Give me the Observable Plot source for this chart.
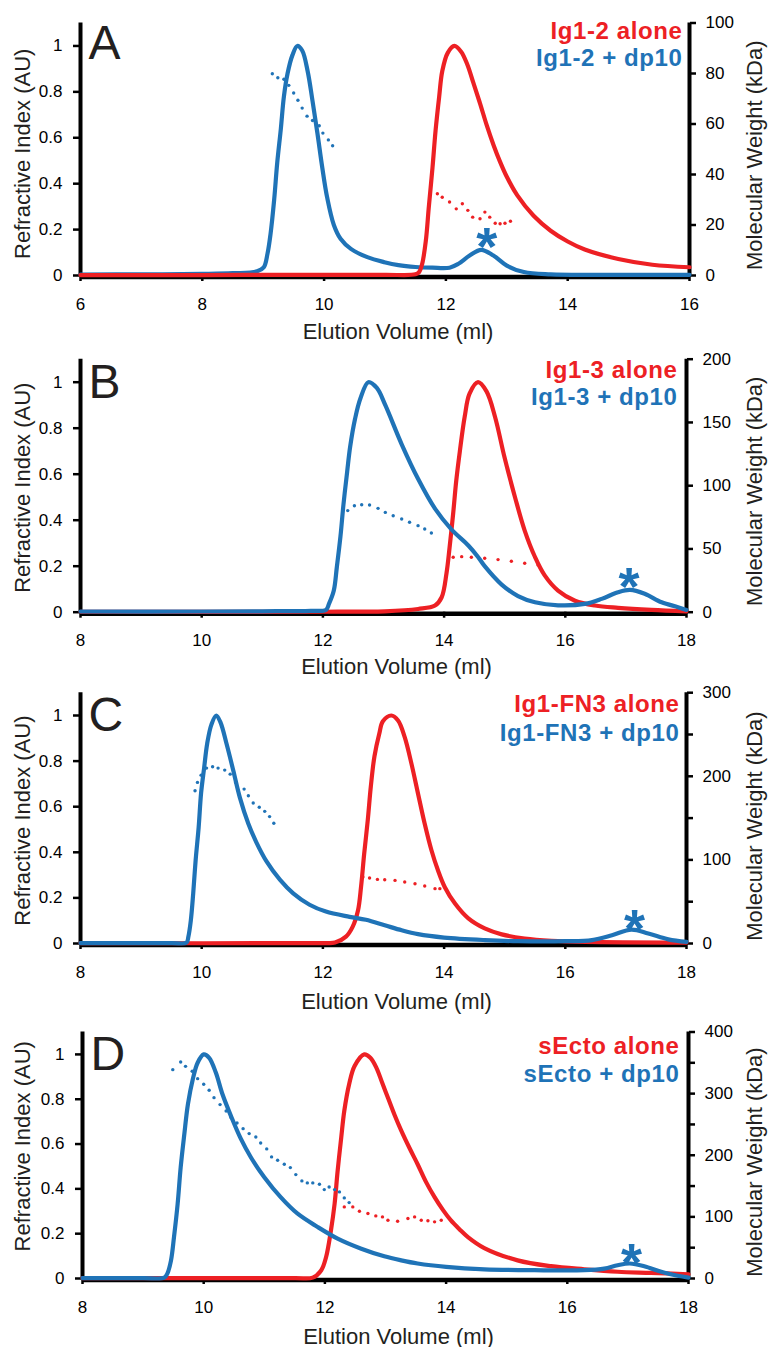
<!DOCTYPE html>
<html>
<head>
<meta charset="utf-8">
<script src="https://cdn.jsdelivr.net/npm/d3@7"></script>
<script src="https://cdn.jsdelivr.net/npm/@observablehq/plot@0.6"></script>
<style>
  body { margin: 0; background: #fff; }
  #chart { width: 768px; }
  #chart svg { display: block; }
</style>
</head>
<body>
<div id="chart"></div>
<script>
const RED = "#ED2024";
const BLUE = "#1F73B7";
const INK = "#231F20";

// ---------- Panel A: Ig1-2 ----------
const aLetter = "A";
const aLabels = ["Ig1-2 alone", "Ig1-2 + dp10"];
const aXTicks = [6, 8, 10, 12, 14, 16];
const aMwTicks = [0, 20, 40, 60, 80, 100];
const aMwLabeled = [0, 20, 40, 60, 80, 100];
const aBlueX = [6, 7, 8, 8.5, 8.9, 9.01, 9.07, 9.12, 9.18, 9.23, 9.29, 9.34, 9.40, 9.48, 9.56, 9.64, 9.73, 9.81, 9.89, 9.97, 10.05, 10.16, 10.27, 10.44, 10.71, 10.99, 11.22, 11.5, 11.78, 12.06, 12.2, 12.39, 12.58, 12.78, 13.0, 13.28, 13.72, 14.5, 16];
const aBlueY = [0.004, 0.005, 0.007, 0.01, 0.018, 0.036, 0.094, 0.18, 0.33, 0.49, 0.64, 0.78, 0.88, 0.96, 1.0, 0.98, 0.89, 0.76, 0.62, 0.47, 0.34, 0.22, 0.16, 0.116, 0.08, 0.058, 0.045, 0.037, 0.034, 0.034, 0.05, 0.087, 0.112, 0.087, 0.043, 0.015, 0.005, 0.003, 0.003];
const aRedX = [6, 8, 10, 11.0, 11.5, 11.56, 11.61, 11.67, 11.72, 11.78, 11.83, 11.89, 11.94, 12.03, 12.14, 12.25, 12.35, 12.45, 12.56, 12.67, 12.78, 12.89, 13.0, 13.17, 13.44, 13.72, 14.0, 14.28, 14.83, 15.39, 16];
const aRedY = [0.002, 0.002, 0.003, 0.003, 0.005, 0.015, 0.05, 0.15, 0.30, 0.47, 0.63, 0.78, 0.89, 0.97, 1.0, 0.975, 0.92, 0.84, 0.75, 0.655, 0.57, 0.495, 0.43, 0.35, 0.26, 0.195, 0.148, 0.113, 0.072, 0.047, 0.036];
const aBlueMwX = [9.15, 9.24, 9.34, 9.42, 9.50, 9.57, 9.64, 9.72, 9.81, 9.92, 9.98, 10.07, 10.14];
const aBlueMw = [79.9, 78.3, 77.7, 75.3, 72.3, 69.4, 66.3, 63.1, 61.4, 59.3, 56.4, 53.7, 51.4];
const aRedMwX = [11.86, 11.94, 12.06, 12.17, 12.27, 12.36, 12.44, 12.56, 12.64, 12.72, 12.81, 12.89, 12.97, 13.06];
const aRedMw = [32.4, 31.0, 29.1, 26.4, 28.4, 25.8, 23.1, 22.5, 25.1, 23.1, 20.7, 20.5, 20.7, 21.5];
const aStar = [12.67, 0.178];

// ---------- Panel B: Ig1-3 ----------
const bLetter = "B";
const bLabels = ["Ig1-3 alone", "Ig1-3 + dp10"];
const bXTicks = [8, 10, 12, 14, 16, 18];
const bMwTicks = [0, 50, 100, 150, 200];
const bMwLabeled = [0, 50, 100, 150, 200];
const bBlueX = [8, 10, 11, 11.8, 12.05, 12.10, 12.18, 12.23, 12.29, 12.34, 12.40, 12.45, 12.53, 12.62, 12.75, 12.89, 13.03, 13.30, 13.57, 13.85, 14.12, 14.40, 14.56, 14.67, 14.95, 15.22, 15.5, 15.88, 16.32, 16.6, 16.87, 17.07, 17.31, 17.59, 17.86, 18];
const bBlueY = [0.003, 0.003, 0.004, 0.006, 0.01, 0.036, 0.094, 0.196, 0.33, 0.47, 0.61, 0.72, 0.84, 0.93, 1.0, 0.975, 0.90, 0.73, 0.58, 0.45, 0.36, 0.29, 0.24, 0.20, 0.12, 0.07, 0.043, 0.03, 0.036, 0.058, 0.087, 0.097, 0.08, 0.043, 0.022, 0.01];
const bRedX = [8, 12, 13.02, 13.57, 13.85, 13.96, 14.04, 14.09, 14.15, 14.20, 14.26, 14.34, 14.42, 14.56, 14.70, 14.84, 15.0, 15.17, 15.33, 15.5, 15.66, 15.88, 16.16, 16.49, 16.87, 17.42, 18];
const bRedY = [0.002, 0.002, 0.004, 0.014, 0.029, 0.065, 0.17, 0.28, 0.43, 0.57, 0.70, 0.85, 0.95, 1.0, 0.96, 0.85, 0.67, 0.50, 0.355, 0.24, 0.16, 0.094, 0.05, 0.029, 0.019, 0.01, 0.004];
const bBlueMwX = [12.41, 12.52, 12.64, 12.77, 12.91, 13.03, 13.16, 13.30, 13.43, 13.57, 13.68, 13.79];
const bBlueMw = [80.3, 84.2, 85.0, 84.7, 82.1, 78.9, 76.3, 73.7, 71.1, 68.4, 65.8, 62.6];
const bRedMwX = [14.15, 14.29, 14.45, 14.67, 14.89, 15.11, 15.33, 15.55];
const bRedMw = [43.4, 43.9, 43.4, 42.6, 41.6, 40.3, 38.7, 37.4];
const bStar = [17.05, 0.163];

// ---------- Panel C: Ig1-FN3 ----------
const cLetter = "C";
const cLabels = ["Ig1-FN3 alone", "Ig1-FN3 + dp10"];
const cXTicks = [8, 10, 12, 14, 16, 18];
const cMwTicks = [0, 50, 100, 150, 200, 250, 300];
const cMwLabeled = [0, 100, 200, 300];
const cBlueX = [8, 9.5, 9.75, 9.78, 9.82, 9.86, 9.90, 9.95, 9.99, 10.04, 10.09, 10.16, 10.24, 10.31, 10.41, 10.52, 10.63, 10.77, 10.90, 11.07, 11.29, 11.51, 11.78, 12.05, 12.44, 12.71, 13.02, 13.30, 13.57, 14.0, 14.67, 15.22, 16.0, 16.44, 16.77, 17.09, 17.37, 17.70, 18];
const cBlueY = [0.002, 0.002, 0.004, 0.03, 0.10, 0.22, 0.365, 0.51, 0.66, 0.77, 0.876, 0.96, 1.0, 0.97, 0.876, 0.76, 0.64, 0.525, 0.445, 0.36, 0.28, 0.22, 0.17, 0.14, 0.117, 0.104, 0.08, 0.058, 0.041, 0.026, 0.015, 0.01, 0.01, 0.015, 0.036, 0.061, 0.044, 0.018, 0.007];
const cRedX = [8, 12.0, 12.2, 12.38, 12.49, 12.58, 12.63, 12.68, 12.74, 12.79, 12.85, 12.93, 12.99, 13.13, 13.24, 13.35, 13.46, 13.57, 13.68, 13.79, 13.90, 14.01, 14.18, 14.40, 14.67, 14.95, 15.33, 15.77, 16.33, 18];
const cRedY = [0.002, 0.002, 0.004, 0.03, 0.073, 0.146, 0.25, 0.39, 0.54, 0.686, 0.82, 0.92, 0.975, 1.0, 0.978, 0.905, 0.79, 0.657, 0.525, 0.41, 0.32, 0.248, 0.175, 0.11, 0.066, 0.04, 0.022, 0.012, 0.007, 0.004];
const cBlueMwX = [9.89, 9.93, 9.99, 10.08, 10.18, 10.27, 10.38, 10.47, 10.56, 10.70, 10.77, 10.85, 10.95, 11.04, 11.12, 11.19];
const cBlueMw = [182.8, 192.7, 201.4, 209.8, 211.4, 209.8, 207.4, 202.6, 192.7, 184.7, 176.8, 168.1, 162.9, 158.1, 151.8, 143.8];
const cRedMwX = [12.66, 12.77, 12.90, 13.02, 13.19, 13.35, 13.52, 13.68, 13.85, 13.93];
const cRedMw = [79.5, 78.3, 76.7, 76.3, 75.5, 73.5, 71.5, 68.7, 65.6, 65.6];
const cStar = [17.14, 0.119];

// ---------- Panel D: sEcto ----------
const dLetter = "D";
const dLabels = ["sEcto alone", "sEcto + dp10"];
const dXTicks = [8, 10, 12, 14, 16, 18];
const dMwTicks = [0, 50, 100, 150, 200, 250, 300, 350, 400];
const dMwLabeled = [0, 100, 200, 300, 400];
const dBlueX = [8, 9.0, 9.35, 9.40, 9.46, 9.51, 9.57, 9.62, 9.68, 9.74, 9.82, 9.90, 10.0, 10.09, 10.20, 10.31, 10.45, 10.61, 10.78, 11.0, 11.27, 11.55, 11.88, 12.21, 12.60, 12.98, 13.26, 13.53, 14.0, 14.63, 15.46, 16.28, 16.61, 16.83, 17.03, 17.27, 17.55, 17.82, 18];
const dBlueY = [0.002, 0.002, 0.004, 0.022, 0.08, 0.185, 0.333, 0.496, 0.644, 0.778, 0.889, 0.963, 1.0, 0.985, 0.919, 0.822, 0.725, 0.625, 0.54, 0.452, 0.363, 0.289, 0.23, 0.178, 0.133, 0.099, 0.081, 0.067, 0.052, 0.041, 0.037, 0.037, 0.044, 0.059, 0.067, 0.055, 0.03, 0.012, 0.004];
const dRedX = [8, 11.5, 11.8, 11.94, 12.02, 12.10, 12.16, 12.21, 12.27, 12.32, 12.40, 12.49, 12.65, 12.75, 12.85, 12.95, 13.05, 13.15, 13.26, 13.40, 13.53, 13.67, 13.81, 13.95, 14.08, 14.22, 14.36, 14.63, 15.18, 15.73, 16.28, 16.83, 17.38, 18];
const dRedY = [0.002, 0.002, 0.004, 0.037, 0.096, 0.215, 0.333, 0.48, 0.63, 0.748, 0.867, 0.948, 1.0, 0.985, 0.94, 0.87, 0.80, 0.73, 0.66, 0.58, 0.51, 0.43, 0.363, 0.305, 0.259, 0.22, 0.185, 0.136, 0.081, 0.055, 0.041, 0.03, 0.025, 0.019];
const dBlueMwX = [9.49, 9.62, 9.70, 9.81, 9.90, 10.0, 10.09, 10.17, 10.27, 10.37, 10.45, 10.55, 10.65, 10.75, 10.86, 10.94, 11.04, 11.12, 11.22, 11.33, 11.43, 11.52, 11.62, 11.71, 11.80, 11.91, 11.99, 12.07, 12.16, 12.24, 12.32, 12.40];
const dBlueMw = [338.9, 351.4, 344.3, 336.2, 324.3, 315.1, 305.4, 293.5, 282.2, 271.9, 261.1, 252.4, 243.2, 235.1, 229.7, 220.0, 210.3, 197.3, 191.9, 185.4, 180.0, 168.6, 158.4, 155.1, 155.1, 153.0, 144.3, 148.6, 144.3, 140.5, 130.8, 123.2];
const dRedMwX = [12.32, 12.46, 12.57, 12.71, 12.84, 12.95, 13.04, 13.20, 13.37, 13.48, 13.59, 13.70, 13.81, 13.92];
const dRedMw = [116.2, 116.2, 109.2, 105.4, 101.6, 100.0, 94.6, 93.0, 97.3, 100.0, 94.6, 93.8, 91.9, 94.6];
const dStar = [17.06, 0.128];

// ---------- assembly ----------
const panels = [
  {letter: aLetter, labels: aLabels, xTicks: aXTicks, mwTicks: aMwTicks, mwLabeled: aMwLabeled,
   blue: [aBlueX, aBlueY], red: [aRedX, aRedY], blueMw: [aBlueMwX, aBlueMw], redMw: [aRedMwX, aRedMw], star: aStar, redOnTop: true},
  {letter: bLetter, labels: bLabels, xTicks: bXTicks, mwTicks: bMwTicks, mwLabeled: bMwLabeled,
   blue: [bBlueX, bBlueY], red: [bRedX, bRedY], blueMw: [bBlueMwX, bBlueMw], redMw: [bRedMwX, bRedMw], star: bStar, redOnTop: false},
  {letter: cLetter, labels: cLabels, xTicks: cXTicks, mwTicks: cMwTicks, mwLabeled: cMwLabeled,
   blue: [cBlueX, cBlueY], red: [cRedX, cRedY], blueMw: [cBlueMwX, cBlueMw], redMw: [cRedMwX, cRedMw], star: cStar, redOnTop: false},
  {letter: dLetter, labels: dLabels, xTicks: dXTicks, mwTicks: dMwTicks, mwLabeled: dMwLabeled,
   blue: [dBlueX, dBlueY], red: [dRedX, dRedY], blueMw: [dBlueMwX, dBlueMw], redMw: [dRedMwX, dRedMw], star: dStar, redOnTop: false}
];

// layout (pixels) per panel
const layout = [
  {height: 343, mt: 22.5, mb: 68, ml: 80, mr: 79, leg1: 15.8, leg2: 42.5, legDx: -7, letDy: 1.5, lTitleDy: 4.5, rTitleDy: 6, xTitleDy: 63},
  {height: 337, mt: 15.7, mb: 68.3, ml: 80, mr: 82, leg1: 18.6, leg2: 45.3, legDx: -9, letDy: 5, lTitleDy: 2, rTitleDy: 5.6, xTitleDy: 62},
  {height: 337, mt: 12.2, mb: 74, ml: 80, mr: 82, leg1: 19.5, leg2: 48.5, legDx: -7, letDy: 4, lTitleDy: 2.5, rTitleDy: 8, xTitleDy: 65},
  {height: 330, mt: 14.5, mb: 69, ml: 82, mr: 80, leg1: 21.7, leg2: 49.7, legDx: -9, letDy: 4, lTitleDy: -9, rTitleDy: 6.8, xTitleDy: 65}
];

const YMAX = 1.1;
const FONT = "'Liberation Sans', Arial, Helvetica, sans-serif";

function rows(xs, ys) { return xs.map((x, i) => ({x, y: ys[i]})); }

function build(p, L) {
  const mwMax = p.mwTicks[p.mwTicks.length - 1];
  const toY = k => k / mwMax * YMAX;
  const xDomain = [p.xTicks[0], p.xTicks[p.xTicks.length - 1]];
  const blue = rows(p.blue[0], p.blue[1]);
  const red = rows(p.red[0], p.red[1]);
  const blueMw = rows(p.blueMw[0], p.blueMw[1].map(toY));
  const redMw = rows(p.redMw[0], p.redMw[1].map(toY));
  const lineOpts = {x: "x", y: "y", strokeWidth: 4.2, curve: "catmull-rom"};
  const blueLine = Plot.line(blue, {...lineOpts, stroke: BLUE});
  const redLine = Plot.line(red, {...lineOpts, stroke: RED});
  const rightX = 768 - L.mr;
  const svg = Plot.plot({
    width: 768,
    height: L.height,
    marginTop: L.mt,
    marginBottom: L.mb,
    marginLeft: L.ml,
    marginRight: L.mr,
    style: {fontFamily: FONT, background: "white", overflow: "visible", color: "black"},
    x: {domain: xDomain},
    y: {domain: [0, YMAX]},
    marks: [
      Plot.axisX({ticks: p.xTicks, tickSize: 6, tickPadding: 16, fontSize: 17, strokeWidth: 2.5, label: null, tickFormat: d => String(d)}),
      Plot.axisY({ticks: [0, 0.2, 0.4, 0.6, 0.8, 1], tickSize: 7, tickPadding: 11, fontSize: 17, strokeWidth: 2.5, label: null,
        tickFormat: d => String(+d.toFixed(1))}),
      Plot.axisY({anchor: "right", ticks: p.mwTicks.map(toY), tickSize: 6, tickPadding: 10, fontSize: 17, strokeWidth: 2.5, label: null,
        tickFormat: d => { const k = Math.round(d / YMAX * mwMax); return p.mwLabeled.includes(k) ? String(k) : ""; }}),
      Plot.ruleX([xDomain[0]], {stroke: "black", strokeWidth: 4}),
      Plot.ruleX([xDomain[1]], {stroke: "black", strokeWidth: 4}),
      Plot.ruleY([0], {stroke: "black", strokeWidth: 4.5, dy: 1.5}),
      ...(p.redOnTop ? [blueLine, redLine] : [redLine, blueLine]),
      Plot.dot(redMw, {x: "x", y: "y", r: 1.7, fill: RED, stroke: null}),
      Plot.dot(blueMw, {x: "x", y: "y", r: 1.7, fill: BLUE, stroke: null}),
      Plot.text([{x: p.star[0], y: p.star[1]}], {x: "x", y: "y", text: () => "*", fill: BLUE, fontSize: 54, fontWeight: "bold", lineAnchor: "middle", dy: 13.5}),
      Plot.text([p.letter], {text: d => d, frameAnchor: "top-left", textAnchor: "start", lineAnchor: "top", dx: 8, dy: L.letDy, fontSize: 48, fill: INK}),
      Plot.text([p.labels[0]], {text: d => d, frameAnchor: "top-right", textAnchor: "end", lineAnchor: "bottom", dx: L.legDx, dy: L.leg1, fontSize: 24, fontWeight: "bold", fill: RED}),
      Plot.text([p.labels[1]], {text: d => d, frameAnchor: "top-right", textAnchor: "end", lineAnchor: "bottom", dx: L.legDx, dy: L.leg2, fontSize: 24, fontWeight: "bold", fill: BLUE}),
      Plot.text(["Elution Volume (ml)"], {text: d => d, frameAnchor: "bottom", textAnchor: "middle", lineAnchor: "bottom", dx: 13, dy: L.xTitleDy, fontSize: 22, fill: INK}),
      Plot.text(["Refractive Index (AU)"], {text: d => d, frameAnchor: "left", textAnchor: "middle", lineAnchor: "middle", rotate: -90, dx: 22.5 - L.ml, dy: L.lTitleDy, fontSize: 22, fill: INK}),
      Plot.text(["Molecular Weight (kDa)"], {text: d => d, frameAnchor: "right", textAnchor: "middle", lineAnchor: "middle", rotate: -90, dx: 754 - rightX, dy: L.rTitleDy, fontSize: 22, fill: INK})
    ]
  });
  // slightly widen the bold legend lettering, as in the original artwork
  svg.querySelectorAll('g[font-size="24"] text').forEach(t => t.setAttribute("letter-spacing", "0.6"));
  return svg;
}

const root = document.getElementById("chart");
panels.forEach((p, i) => root.appendChild(build(p, layout[i])));
</script>
</body>
</html>
